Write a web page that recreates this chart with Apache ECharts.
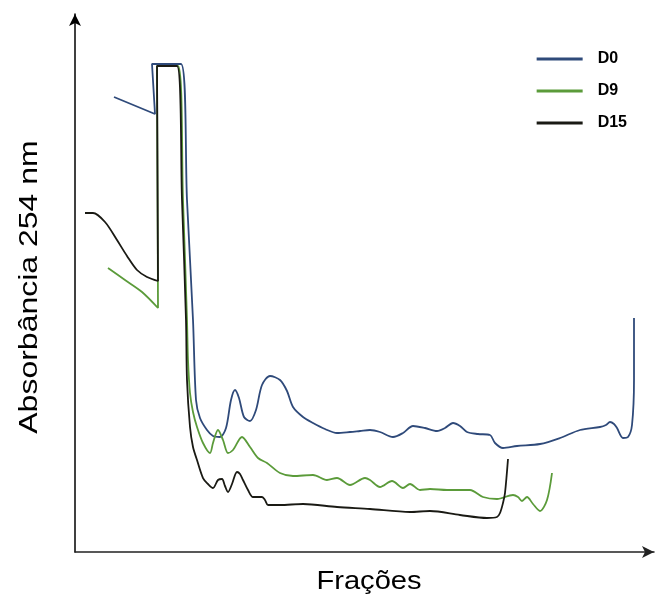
<!DOCTYPE html>
<html><head><meta charset="utf-8">
<script src="https://cdn.jsdelivr.net/npm/echarts@6/dist/echarts.min.js"></script>
<style>html,body{margin:0;padding:0;background:#fff}#c{width:656px;height:599px}</style>
</head><body><div id="c"></div>
<script>
// x = fraction position, y = absorbance (arbitrary units)
var seriesNames = ['D0', 'D9', 'D15'];
var xTitle = 'Frações';
var yTitle = 'Absorbância 254 nm';
var d0 = [[39,455],[80,438],[77,488],[106,488],[112,352],[118,232],[121,152],[125,134],[132,122],[138,116],[145,115],[151,124],[156,152],[160,162],[164,154],[169,135],[175,131],[181,142],[187,167],[195,176],[205,172],[212,161],[218,145],[228,135],[238,129],[250,123],[262,119],[275,120],[285,121],[295,122],[305,120],[318,115],[328,119],[338,126],[350,124],[362,121],[370,124],[378,129],[385,126],[392,120],[403,118],[415,117],[420,109],[428,104],[442,106],[465,108],[485,114],[505,122],[525,125],[531,127],[535,130],[539,128],[542,124],[548,114],[553,115],[557,127],[559,172],[559,234]];
var d9 = [[33,284],[50,272],[67,260],[83,244],[82,486],[103,486],[108,352],[112,232],[113,192],[115,159],[118,140],[122,125],[128,109],[135,99],[138,109],[143,122],[148,112],[153,99],[158,102],[167,115],[175,105],[183,94],[192,89],[205,79],[218,76],[238,77],[252,72],[262,74],[275,67],[290,74],[295,72],[305,65],[317,71],[328,64],[335,68],[345,62],[355,63],[372,62],[395,62],[408,55],[422,53],[438,57],[443,55],[447,51],[452,55],[458,48],[465,41],[472,52],[477,79]];
var d15 = [[10,339],[18,339],[30,330],[42,312],[52,296],[62,282],[72,275],[83,271],[82,486],[102,486],[107,352],[111,232],[112,172],[115,125],[118,105],[122,92],[128,74],[133,68],[138,64],[143,72],[147,73],[150,66],[153,60],[157,68],[162,80],[165,78],[168,72],[173,62],[178,55],[187,55],[190,52],[193,47],[205,47],[228,48],[262,45],[295,43],[335,40],[355,41],[385,37],[412,34],[422,35],[425,39],[428,49],[430,59],[433,93]];
var colors = ['#2f4a7a', '#5b9b3a', '#1a1a14'];

var chart = echarts.init(document.getElementById('c'));
var font = 'Liberation Sans, Arial, sans-serif';
function mk(name, data, color) {
  return { name: name, type: 'line', data: data, smooth: 0.3, symbol: 'none',
    lineStyle: { color: color, width: 1.8 }, itemStyle: { color: color } };
}
chart.setOption({
  animation: false,
  grid: { left: 75, right: 2, top: 14, bottom: 47 },
  legend: {
    orient: 'vertical', right: 24, top: 46, itemWidth: 46, itemHeight: 3, itemGap: 16,
    icon: 'rect',
    data: seriesNames,
    textStyle: { fontFamily: font, fontWeight: 'bold', fontSize: 16, color: '#000', padding: [0, 0, 0, 10] }
  },
  graphic: [
    { type: 'text', x: 30, y: 287, rotation: Math.PI / 2, scaleX: 1.28, scaleY: 1,
      style: { text: yTitle, font: '25px ' + font, fill: '#000', align: 'center', verticalAlign: 'middle' } },
    { type: 'text', x: 369, y: 582, scaleX: 1.12, scaleY: 1,
      style: { text: xTitle, font: '26px ' + font, fill: '#000', align: 'center', verticalAlign: 'middle' } }
  ],
  xAxis: {
    type: 'value', min: 0, max: 579,
    axisLine: { show: true, symbol: ['none', 'arrow'], symbolSize: [9, 12], lineStyle: { color: '#222', width: 1.5 } },
    axisTick: { show: false }, axisLabel: { show: false }, splitLine: { show: false }
  },
  yAxis: {
    type: 'value', min: 0, max: 538,
    axisLine: { show: true, symbol: ['none', 'arrow'], symbolSize: [9, 12], lineStyle: { color: '#000', width: 1.5 } },
    axisTick: { show: false }, axisLabel: { show: false }, splitLine: { show: false }
  },
  series: [mk('D0', d0, colors[0]), mk('D9', d9, colors[1]), mk('D15', d15, colors[2])]
});
</script></body></html>
